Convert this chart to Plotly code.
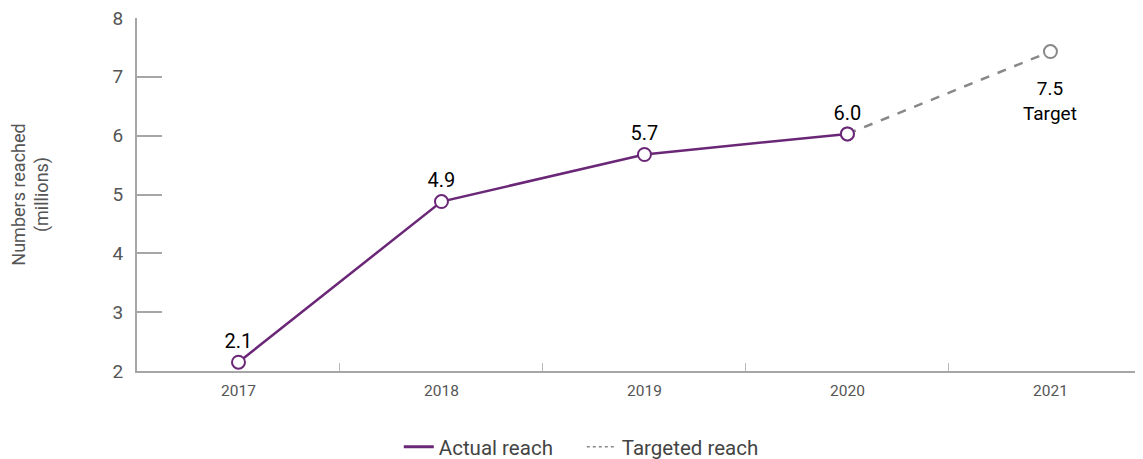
import plotly.graph_objects as go

years = ['2017', '2018', '2019', '2020', '2021']
actual = [2.15, 4.88, 5.68, 6.03]
actual_labels = ['2.1', '4.9', '5.7', '6.0']
target_years = ['2020', '2021']
target = [6.03, 7.43]
target_label = '7.5<br>Target'

purple = '#6B2777'
grey = '#888888'
axis_grey = '#A6A6A8'

fig = go.Figure()

# dashed target segment (drawn first so actual sits on top)
fig.add_trace(go.Scatter(
    x=target_years, y=target,
    mode='lines+markers',
    line=dict(color=grey, width=2.5, dash='dash'),
    marker=dict(size=13, color='white', line=dict(color=grey, width=2)),
    showlegend=False, hoverinfo='skip'
))

fig.add_trace(go.Scatter(
    x=years[:4], y=actual,
    mode='lines+markers+text',
    line=dict(color=purple, width=2.5),
    marker=dict(size=13, color='white', line=dict(color=purple, width=2)),
    text=actual_labels, textposition='top center',
    textfont=dict(size=20, color='black'),
    showlegend=False
))

# category axis -> annotation x needs the category index
fig.add_annotation(x=years.index(target_years[-1]), y=target[-1], text=target_label,
                   xref='x', yref='y', showarrow=False, yshift=-49,
                   font=dict(size=19, color='black'))

# legend entries
fig.add_trace(go.Scatter(x=[None], y=[None], mode='lines', name='Actual reach',
                         line=dict(color=purple, width=3)))
fig.add_trace(go.Scatter(x=[None], y=[None], mode='lines', name='Targeted reach',
                         line=dict(color=grey, width=1.5, dash='dot')))

# page body has an 8px margin, so the margins below compensate for it
fig.update_layout(
    width=1143, height=459,
    margin=dict(l=129, r=8, t=10, b=96),
    plot_bgcolor='white', paper_bgcolor='white',
    font=dict(family='Roboto', color='#555555'),
    legend=dict(orientation='h', xref='container', yref='container',
                x=0.502, xanchor='center', y=0.0436, yanchor='middle',
                entrywidth=138, font=dict(size=20.5, color='#444444')),
)
fig.update_xaxes(
    type='category', categoryorder='array', categoryarray=years,
    range=[-0.5, 4.456], tickson='boundaries',
    ticks='inside', ticklen=8, tickcolor='#BBBBBB', tickwidth=1,
    showline=True, linecolor=axis_grey, linewidth=2,
    showgrid=False, zeroline=False, automargin=False,
    tickfont=dict(size=15.5, color='#555555'), ticklabelstandoff=4,
)
fig.update_yaxes(
    range=[2, 8], dtick=1,
    ticks='inside', ticklen=25, tickcolor=axis_grey, tickwidth=2,
    showline=True, linecolor=axis_grey, linewidth=2,
    showgrid=False, zeroline=False, automargin=False,
    ticklabeloverflow='allow', ticklabelstandoff=8,
    tickfont=dict(size=19, color='#555555'),
    title=dict(text='Numbers reached<br>(millions)', font=dict(size=18, color='#555555'),
               standoff=66),
)

fig.write_html('out.html')
